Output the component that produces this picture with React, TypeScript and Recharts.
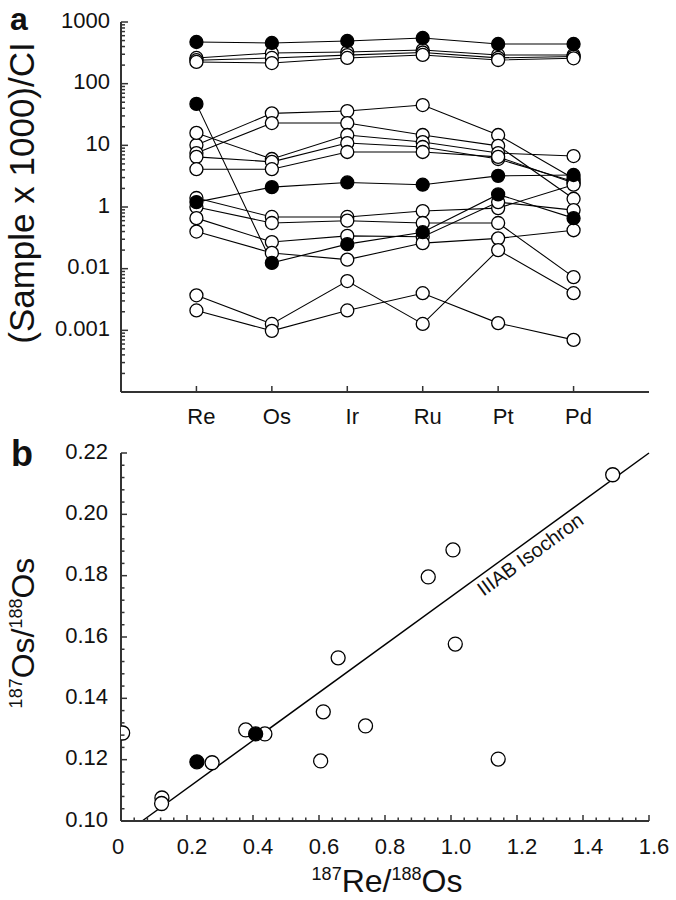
import React from "react";
import {
  LineChart,
  ComposedChart,
  Line,
  Scatter,
  XAxis,
  YAxis,
  ReferenceLine,
  ReferenceDot,
} from "recharts";

const INK = "#111";
const AXIS = "#333";
const FONT = "'Liberation Sans', Arial, sans-serif";

// ---------- panel a: (Sample x 1000)/CI, values for Re, Os, Ir, Ru, Pt, Pd
const elements = ["Re", "Os", "Ir", "Ru", "Pt", "Pd"];

const openHigh1 = [261, 314, 326, 351, 292, 292];
const openHigh2 = [240, 261, 290, 320, 262, 275];
const openHigh3 = [225, 216, 261, 292, 242, 258];
const open10a = [10.1, 33, 36, 45, 14.7, 2.9];
const open10b = [7.5, 23, 23, 14.7, 9.8, 1.36];
const open10c = [15.9, 6.0, 14.7, 11.3, 7.5, 6.7];
const open10d = [6.5, 5.4, 10.9, 9.4, 6.0, 2.6];
const open10e = [4.1, 4.1, 7.8, 7.8, 6.5, 2.45];
const open1a = [1.4, 0.69, 0.69, 0.86, 0.96, 2.3];
const open1b = [1.0, 0.55, 0.6, 0.55, 0.55, 0.073];
const open1c = [0.66, 0.27, 0.34, 0.33, 1.2, 0.89];
const open1d = [0.4, 0.18, 0.14, 0.26, 0.31, 0.42];
const openLow1 = [0.037, 0.0127, 0.063, 0.0127, 0.2, 0.04];
const openLow2 = [0.021, 0.0098, 0.021, 0.04, 0.0131, 0.007];

const filledHigh = [474, 457, 492, 551, 440, 440];
const filledMid = [1.2, 2.1, 2.5, 2.3, 3.2, 3.3];
const filledDrop = [47, 0.124, 0.25, 0.39, 1.6, 0.66];

const openSeries = [
  openHigh1, openHigh2, openHigh3,
  open10a, open10b, open10c, open10d, open10e,
  open1a, open1b, open1c, open1d,
  openLow1, openLow2,
];
const filledSeries = [filledHigh, filledMid, filledDrop];

// tick labels as printed on the figure
const yLabelAt = [1000, 100, 10, 1, 0.1, 0.01];
const yLabelText = ["1000", "100", "10", "1", "0.01", "0.001"];

const rowsA = elements.map((el, i) => {
  const row: Record<string, number | string> = { pos: i + 1, el };
  openSeries.forEach((s, k) => (row[`o${k}`] = s[i]));
  filledSeries.forEach((s, k) => (row[`f${k}`] = s[i]));
  return row;
});

const logTicks: number[] = [];
for (let e = -3; e < 3; e++) {
  for (let k = 1; k < 10; k++) logTicks.push(Number((k * Math.pow(10, e)).toPrecision(3)));
}
logTicks.push(1000);
const isDecade = (v: number) => Math.abs(Math.log10(v) - Math.round(Math.log10(v))) < 1e-6;
const logLabel = (v: number) => {
  const i = yLabelAt.findIndex((t) => Math.abs(Math.log10(t) - Math.log10(v)) < 1e-6);
  return i >= 0 ? yLabelText[i] : null;
};

// ---------- panel b: 187Os/188Os vs 187Re/188Os
const openRe = [0.005, 0.124, 0.123, 0.276, 0.378, 0.436, 0.605, 0.613, 0.658, 0.741, 0.931, 1.006, 1.013, 1.143, 1.49];
const openOs = [0.1287, 0.1075, 0.1057, 0.119, 0.1297, 0.1284, 0.1196, 0.1356, 0.1532, 0.131, 0.1796, 0.1884, 0.1577, 0.1202, 0.2129];
const filledRe = [0.23, 0.408];
const filledOs = [0.1193, 0.1284];
const isochronRe = [0.064, 1.6];
const isochronOs = [0.1, 0.22];
const isoLabelAt = [1.24, 0.187];

const openPts = openRe.map((x, i) => ({ x, y: openOs[i] }));
const filledPts = filledRe.map((x, i) => ({ x, y: filledOs[i] }));

const xTicksB: number[] = [];
for (let i = 0; i <= 40; i++) xTicksB.push(Number((i * 0.04).toFixed(2)));
const yTicksB: number[] = [];
for (let i = 0; i <= 30; i++) yTicksB.push(Number((0.1 + i * 0.004).toFixed(3)));
const onStep = (step: number) => (v: number) => Math.abs(v / step - Math.round(v / step)) < 1e-6;

function EdgeTick(props: any) {
  const { x, y, payload, tSide, tMajor, tLabel, tLen = [7, 4], tGap = 10, tDx = 0, tDy = 0 } = props;
  const v = payload.value;
  const major = tMajor(v);
  const len = major ? tLen[0] : tLen[1];
  const txt = major && tLabel ? tLabel(v) : null;
  const lp = { stroke: AXIS, strokeWidth: 1.5 };
  const tp = { fill: INK, fontSize: 22, fontFamily: FONT, stroke: "none" };
  let line;
  let text = null;
  if (tSide === "bottom") {
    line = <line x1={x} x2={x} y1={y} y2={y - len} {...lp} />;
    if (txt != null) {
      const dx = typeof tDx === "function" ? tDx(v) : tDx;
      text = (
        <text x={x + dx} y={y + tGap} dy="0.71em" textAnchor="middle" {...tp}>
          {txt}
        </text>
      );
    }
  } else if (tSide === "top") {
    line = <line x1={x} x2={x} y1={y} y2={y + len} {...lp} />;
  } else if (tSide === "left") {
    line = <line x1={x} x2={x + len} y1={y} y2={y} {...lp} />;
    if (txt != null) {
      text = (
        <text x={x - tGap} y={y + tDy} dy="0.35em" textAnchor="end" {...tp}>
          {txt}
        </text>
      );
    }
  } else {
    line = <line x1={x} x2={x - len} y1={y} y2={y} {...lp} />;
  }
  return (
    <g>
      {line}
      {text}
    </g>
  );
}

const axisLine = { stroke: AXIS, strokeWidth: 2 };
const openDot = { r: 6.5, fill: "#fff", stroke: "#000", strokeWidth: 1.3 };
const filledDot = { r: 6.5, fill: "#000", stroke: "#000", strokeWidth: 1.3 };

function PanelA() {
  return (
    <LineChart width={676} height={432} data={rowsA} margin={{ top: 22, right: 27, left: 0, bottom: 0 }}>
      <XAxis
        type="number"
        dataKey="pos"
        domain={[0, 7]}
        ticks={[1, 2, 3, 4, 5, 6]}
        interval={0}
        height={40}
        tickSize={0}
        tickMargin={0}
        tickLine={false}
        axisLine={axisLine}
        tick={<EdgeTick tSide="bottom" tMajor={() => true} tLabel={(v: number) => elements[v - 1]} tLen={[6, 6]} tGap={16} tDx={5} />}
      />
      <XAxis
        xAxisId="top"
        orientation="top"
        type="number"
        domain={[0, 7]}
        ticks={[1, 2, 3, 4, 5, 6]}
        interval={0}
        height={0}
        tickSize={0}
        tickMargin={0}
        tickLine={false}
        axisLine={axisLine}
        allowDataOverflow
        tick={<EdgeTick tSide="top" tMajor={() => true} tLen={[6, 6]} />}
      />
      <YAxis
        scale="log"
        domain={[0.001, 1000]}
        allowDataOverflow
        ticks={logTicks}
        interval={0}
        width={121}
        tickSize={0}
        tickMargin={0}
        tickLine={false}
        axisLine={axisLine}
        tick={<EdgeTick tSide="left" tMajor={isDecade} tLabel={logLabel} tGap={11} tDy={-2} />}
      />
      <YAxis
        yAxisId="right"
        orientation="right"
        scale="log"
        domain={[0.001, 1000]}
        allowDataOverflow
        ticks={logTicks}
        interval={0}
        width={0}
        tickSize={0}
        tickMargin={0}
        tickLine={false}
        axisLine={axisLine}
        tick={<EdgeTick tSide="right" tMajor={isDecade} />}
      />
      {openSeries.map((_, k) => (
        <Line
          key={`o${k}`}
          dataKey={`o${k}`}
          stroke="#000"
          strokeWidth={1.1}
          dot={openDot}
          activeDot={false}
          isAnimationActive={false}
        />
      ))}
      {filledSeries.map((_, k) => (
        <Line
          key={`f${k}`}
          dataKey={`f${k}`}
          stroke="#000"
          strokeWidth={1.1}
          dot={filledDot}
          activeDot={false}
          isAnimationActive={false}
        />
      ))}
    </LineChart>
  );
}

function PanelB() {
  return (
    <ComposedChart width={676} height={440} margin={{ top: 23, right: 27, left: 0, bottom: 9 }}>
      <XAxis
        type="number"
        dataKey="x"
        domain={[0, 1.6]}
        ticks={xTicksB}
        interval={0}
        height={40}
        tickSize={0}
        tickMargin={0}
        tickLine={false}
        axisLine={axisLine}
        allowDataOverflow
        tick={
          <EdgeTick
            tSide="bottom"
            tMajor={onStep(0.2)}
            tLabel={(v: number) => (v === 0 ? "0" : v.toFixed(1))}
            tLen={[6, 3.5]}
            tGap={17}
            tDx={(v: number) => (v === 0 ? -3 : 5)}
          />
        }
      />
      <XAxis
        xAxisId="top"
        orientation="top"
        type="number"
        domain={[0, 1.6]}
        ticks={xTicksB}
        interval={0}
        height={0}
        tickSize={0}
        tickMargin={0}
        tickLine={false}
        axisLine={axisLine}
        allowDataOverflow
        tick={<EdgeTick tSide="top" tMajor={onStep(0.2)} tLen={[6, 3.5]} />}
      />
      <YAxis
        type="number"
        dataKey="y"
        domain={[0.1, 0.22]}
        ticks={yTicksB}
        interval={0}
        width={121}
        tickSize={0}
        tickMargin={0}
        tickLine={false}
        axisLine={axisLine}
        allowDataOverflow
        tick={<EdgeTick tSide="left" tMajor={onStep(0.02)} tLabel={(v: number) => v.toFixed(2)} tLen={[6, 3.5]} tGap={13} tDy={-2} />}
      />
      <YAxis
        yAxisId="right"
        orientation="right"
        type="number"
        domain={[0.1, 0.22]}
        ticks={yTicksB}
        interval={0}
        width={0}
        tickSize={0}
        tickMargin={0}
        tickLine={false}
        axisLine={axisLine}
        allowDataOverflow
        tick={<EdgeTick tSide="right" tMajor={onStep(0.02)} tLen={[6, 3.5]} />}
      />
      <ReferenceLine
        segment={[
          { x: isochronRe[0], y: isochronOs[0] },
          { x: isochronRe[1], y: isochronOs[1] },
        ]}
        stroke="#000"
        strokeWidth={1.5}
      />
      <ReferenceDot
        x={isoLabelAt[0]}
        y={isoLabelAt[1]}
        r={1}
        shape={(p: any) => (
          <text
            x={p.cx}
            y={p.cy}
            dy="0.35em"
            transform={`rotate(-36 ${p.cx} ${p.cy})`}
            textAnchor="middle"
            fontSize={20}
            fontFamily={FONT}
            fill={INK}
          >
            IIIAB Isochron
          </text>
        )}
      />
      <Scatter
        data={openPts}
        isAnimationActive={false}
        shape={(p: any) => <circle cx={p.cx} cy={p.cy} r={7} fill="#fff" stroke="#000" strokeWidth={1.3} />}
      />
      <Scatter
        data={filledPts}
        isAnimationActive={false}
        shape={(p: any) => <circle cx={p.cx} cy={p.cy} r={7} fill="#000" stroke="#000" strokeWidth={1.3} />}
      />
    </ComposedChart>
  );
}

export default function App() {
  return (
    <div style={{ position: "absolute", left: 0, top: 0, width: 676, height: 900, background: "#fff" }}>
      <div style={{ position: "absolute", left: 0, top: 0 }}>
        <PanelA />
      </div>
      <div style={{ position: "absolute", left: 0, top: 430 }}>
        <PanelB />
      </div>
      <svg
        width={676}
        height={900}
        style={{ position: "absolute", left: 0, top: 0, pointerEvents: "none" }}
        fontFamily={FONT}
        fill={INK}
      >
        <text x={10} y={30} fontSize={32} fontWeight="bold">a</text>
        <text x={11} y={466} fontSize={36} fontWeight="bold">b</text>
        <text transform="translate(34 193) rotate(-90)" textAnchor="middle" fontSize={35}>
          (Sample x 1000)/CI
        </text>
        <text transform="translate(34 633) rotate(-90)" textAnchor="middle" fontSize={32}>
          <tspan fontSize={18} dy={-12}>187</tspan>
          <tspan dy={12}>Os/</tspan>
          <tspan fontSize={18} dy={-12}>188</tspan>
          <tspan dy={12}>Os</tspan>
        </text>
        <text x={387} y={892} textAnchor="middle" fontSize={32}>
          <tspan fontSize={18} dy={-12}>187</tspan>
          <tspan dy={12}>Re/</tspan>
          <tspan fontSize={18} dy={-12}>188</tspan>
          <tspan dy={12}>Os</tspan>
        </text>
      </svg>
    </div>
  );
}
